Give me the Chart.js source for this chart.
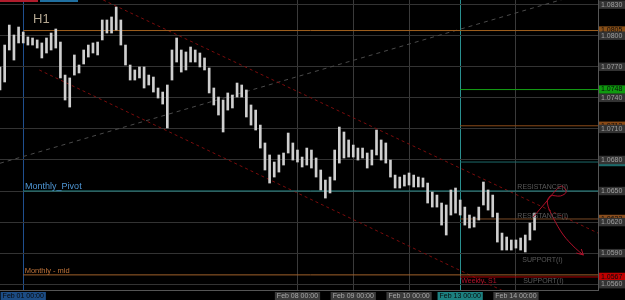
<!DOCTYPE html>
<html><head><meta charset="utf-8">
<script src="https://cdn.jsdelivr.net/npm/chart.js@4.4.1/dist/chart.umd.min.js"></script>
<style>html,body{margin:0;padding:0;background:#000;overflow:hidden}canvas{display:block}</style>
</head><body>
<canvas id="c" width="625" height="300"></canvas>
<script>
// x = trading-hour index counted from Feb 01 00:00 (H1 bars, 2-hour buckets)
const barIndex = [-10,-8,-6,-4,-2,0,2,4,6,8,10,12,14,16,18,20,22,24,26,28,30,32,34,36,38,40,42,44,46,48,50,52,54,56,58,60,62,64,66,68,70,72,74,76,78,80,82,84,86,88,90,92,94,96,98,100,102,104,106,108,110,112,114,116,118,120,122,124,126,128,130,132,134,136,138,140,142,144,146,148,150,152,154,156,158,160,162,164,166,168,170,172,174,176,178,180,182,184,186,188,190,192,194,196,198,200,202,204,206,208,210,212,214,216,218,220];
const barHigh = [1.07698,1.07910,1.08103,1.08007,1.08084,1.08036,1.07988,1.07978,1.07959,1.07930,1.07978,1.08026,1.08065,1.07939,1.07620,1.07592,1.07814,1.07717,1.07862,1.07910,1.07930,1.07939,1.08152,1.08152,1.08181,1.08277,1.08152,1.07910,1.07717,1.07669,1.07698,1.07698,1.07620,1.07601,1.07495,1.07456,1.07524,1.07862,1.07978,1.07862,1.07843,1.07891,1.07862,1.07833,1.07785,1.07688,1.07495,1.07408,1.07379,1.07447,1.07427,1.07543,1.07524,1.07476,1.07331,1.07282,1.07137,1.06964,1.06848,1.06780,1.06848,1.06867,1.07060,1.06964,1.06896,1.06828,1.06915,1.06896,1.06819,1.06703,1.06606,1.06635,1.06896,1.07118,1.07070,1.06993,1.06944,1.06915,1.06915,1.06867,1.06896,1.07089,1.06993,1.06964,1.06799,1.06654,1.06635,1.06654,1.06674,1.06654,1.06635,1.06626,1.06577,1.06490,1.06461,1.06384,1.06365,1.06510,1.06529,1.06413,1.06345,1.06268,1.06249,1.06345,1.06587,1.06510,1.06461,1.06287,1.06094,1.06056,1.06027,1.06027,1.06046,1.06075,1.06191,1.06287];
const barLow = [1.07476,1.07553,1.07862,1.07765,1.07930,1.07930,1.07910,1.07910,1.07881,1.07785,1.07833,1.07862,1.07881,1.07592,1.07379,1.07311,1.07620,1.07640,1.07727,1.07794,1.07833,1.07814,1.07959,1.08026,1.08026,1.08055,1.07910,1.07717,1.07572,1.07572,1.07592,1.07495,1.07524,1.07456,1.07398,1.07340,1.07109,1.07572,1.07746,1.07649,1.07669,1.07746,1.07746,1.07698,1.07669,1.07447,1.07331,1.07234,1.07070,1.07282,1.07302,1.07408,1.07408,1.07215,1.07137,1.07089,1.06915,1.06703,1.06577,1.06635,1.06683,1.06751,1.06867,1.06799,1.06780,1.06732,1.06751,1.06722,1.06635,1.06510,1.06432,1.06481,1.06606,1.06770,1.06819,1.06828,1.06828,1.06799,1.06819,1.06722,1.06751,1.06848,1.06799,1.06770,1.06635,1.06529,1.06529,1.06548,1.06558,1.06539,1.06539,1.06539,1.06384,1.06345,1.06345,1.06171,1.06075,1.06268,1.06287,1.06268,1.06171,1.06143,1.06152,1.06220,1.06365,1.06316,1.06249,1.06007,1.05930,1.05930,1.05930,1.05949,1.05930,1.05911,1.06027,1.06123];

const dateTicks = [0,118,142,166,188,212];
const dateLabels = ['Feb 01 00:00','Feb 08 00:00','Feb 09 00:00','Feb 10 00:00','Feb 13 00:00','Feb 14 00:00'];
const priceGrid = [1.0830,1.0800,1.0770,1.0740,1.0710,1.0680,1.0650,1.0620,1.0590,1.0560];

// horizontal levels: price and first bar
const levelPrices = [1.0805,1.0748,1.0713,1.0678,1.0650,1.0623,1.0569,1.0567];
const levelStart  = [0,188,188,188,0,188,0,188];
const levelColors = ['#a0601e','#14a014','#8c4a18','#1c6a6a','#2a8e8e','#7a4a26','#a0602a','#b00000'];
const levelLabelBg = ['#8a5018','#0f9a0f','#8a4a16','#1c6a6a',null,'#8a4e1e',null,'#c00000'];

// trend lines [bar, price]
const upperChannel = [[34.4,1.08345],[247.3,1.06094]];
const lowerChannel = [[6.9,1.07669],[206,1.05540]];
const grayLine = [[-10,1.06768],[247.3,1.08451]];
const arrowPath = [[219.4,1.06249],[224.6,1.06384],[229.3,1.06510],[231.9,1.06548],[233.6,1.06490],[231.1,1.06452],[226.8,1.06452],[225.5,1.06384],[228.1,1.06239],[232.4,1.06075],[237.5,1.05949],[241.0,1.05882]];
const arrowHead = [[238.0,1.05901],[241.0,1.05882],[240.1,1.05940]];

const XMIN=-10, XMAX=247.3;
Chart.defaults.font.family = 'Liberation Sans';

const pts = a => a.map(p=>({x:p[0],y:p[1]}));
const lineDs = (data,color,dash,extra) => Object.assign({type:'line',data:pts(data),borderColor:color,borderWidth:1,pointRadius:0,borderDash:dash||[],fill:false,order:2}, extra||{});

const datasets = [{
  type:'bar',
  data: barIndex.map((x,i)=>({x:x, y:[barLow[i], barHigh[i]]})),
  backgroundColor:'#cfcfcf', barThickness:2, order:0
}];
levelPrices.forEach((p,i)=>datasets.push(lineDs([[levelStart[i],p],[XMAX,p]],levelColors[i])));
datasets.push(lineDs(upperChannel,'#7a0c0c',[3,3]));
datasets.push(lineDs(lowerChannel,'#7a0c0c',[3,3]));
datasets.push(lineDs(grayLine,'#4a4a4a',[4,4]));
datasets.push(lineDs(arrowPath,'#b0102a',[],{tension:0.35,order:-1}));
datasets.push(lineDs(arrowHead,'#b0102a',[],{order:-1}));

const notes = [
  {text:'Monthly_Pivot', x:0.8, y:1.0650, dy:-2, font:'9px Liberation Sans', color:'#4f97d6'},
  {text:'Monthly - mid', x:0.6, y:1.0569, dy:-2, font:'7.5px Liberation Sans', color:'#c0743a'},
  {text:'RESISTANCE(I)', x:212.6, y:1.0650, dy:-2, font:'7px Liberation Sans', color:'#5a5a5a'},
  {text:'RESISTANCE(I)', x:212.6, y:1.0623, dy:-1, font:'7px Liberation Sans', color:'#5a5a5a'},
  {text:'SUPPORT(I)', x:214.7, y:1.0581, dy:0, font:'7px Liberation Sans', color:'#5a5a5a'},
  {text:'SUPPORT(I)', x:215.1, y:1.0567, dy:6, font:'7px Liberation Sans', color:'#5a5a5a'},
  {text:'Weekly_S1', x:188.5, y:1.0567, dy:6, font:'7px Liberation Sans', color:'#b0102a'}
];

const decor = {
  id:'decor',
  afterDatasetsDraw(chart){
    const c=chart.ctx, xs=chart.scales.x, ys=chart.scales.y;
    c.save();
    c.textBaseline='alphabetic'; c.textAlign='left';
    notes.forEach(n=>{c.font=n.font; c.fillStyle=n.color; c.fillText(n.text, xs.getPixelForValue(n.x), ys.getPixelForValue(n.y)+n.dy);});
    c.font='13px Liberation Sans'; c.fillStyle='#b3a690'; c.fillText('H1',33,23);
    c.fillStyle='#b01c2c'; c.fillRect(0,0,38,2);
    c.fillStyle='#1f6fa0'; c.fillRect(40,0,38,2);
    c.restore();
  }
};

const yTickVals = levelPrices.filter((p,i)=>levelLabelBg[i]).concat(priceGrid);
const yBg = v => { const i=levelPrices.indexOf(v); return (i>=0 && levelLabelBg[i] && priceGrid.indexOf(v)<0) ? levelLabelBg[i] : '#333333'; };

new Chart(document.getElementById('c'),{
  type:'bar',
  data:{datasets},
  options:{
    responsive:false, animation:false,
    layout:{padding:0, autoPadding:false},
    plugins:{legend:{display:false}, tooltip:{enabled:false}},
    scales:{
      x:{type:'linear', min:XMIN, max:XMAX, offset:false,
        afterBuildTicks:s=>{s.ticks=dateTicks.map(v=>({value:v}));},
        afterFit:s=>{s.height=10; s.paddingLeft=0; s.paddingRight=0;},
        grid:{offset:false, drawTicks:false, lineWidth:1,
          color:c=>{const v=c.tick&&c.tick.value; return v===0?'#1f4f8f':(v===188?'#2a8f8f':'#3a3a3a');}},
        border:{display:true,color:'#555'},
        ticks:{autoSkip:false, maxRotation:0, padding:2, font:{size:7},
          callback:v=>dateLabels[dateTicks.indexOf(v)],
          color:c=>{const v=c.tick&&c.tick.value; return (v===0||v===188)?'#0a0a0a':'#a8a8a8';},
          showLabelBackdrop:true,
          backdropColor:c=>{const v=c.tick&&c.tick.value; return v===0?'#1c4c84':(v===188?'#1c8080':'#3a3a3a');},
          backdropPadding:{top:0,bottom:0,left:2,right:2}}
      },
      y:{type:'linear', position:'right', min:1.05544, max:1.08345,
        afterBuildTicks:s=>{s.ticks=yTickVals.map(v=>({value:v}));},
        afterFit:s=>{s.width=27; s.paddingTop=0; s.paddingBottom=0;},
        grid:{drawTicks:false, color:c=>{const v=c.tick&&c.tick.value; return priceGrid.indexOf(v)>=0?'#333333':'rgba(0,0,0,0)';}},
        border:{display:true,color:'#555'},
        ticks:{autoSkip:false, padding:3, crossAlign:'near', font:{size:7},
          callback:v=>Number(v).toFixed(4),
          color:c=>{const v=c.tick&&c.tick.value; return yBg(v)==='#333333'?'#a0a0a0':'#0a0a0a';},
          showLabelBackdrop:true,
          backdropColor:c=>yBg(c.tick&&c.tick.value),
          backdropPadding:{top:0,bottom:0,left:2,right:3}}
      }
    }
  },
  plugins:[decor]
});
</script>
</body></html>
